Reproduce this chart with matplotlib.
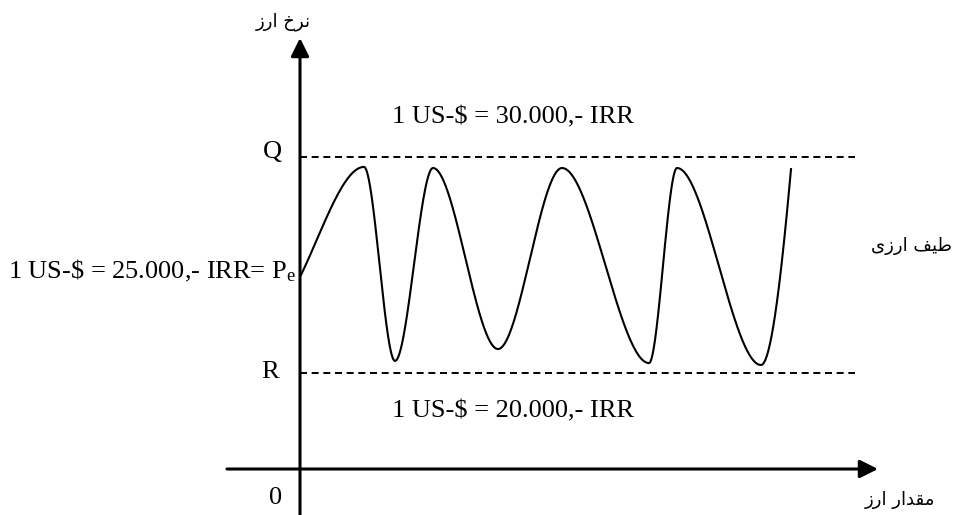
import numpy as np
import matplotlib
matplotlib.use("Agg")
import matplotlib.pyplot as plt
from matplotlib.patches import ArrowStyle

# ---- data (x: quantity of currency, y: rate in thousand IRR per US-$) ----
curve_x = [0.1, 6.4, 9.5, 13.3, 19.8, 26.2, 34.9, 37.7, 46.1, 49.1]
curve_y = [24.54, 29.54, 20.56, 29.49, 21.11, 29.49, 20.46, 29.49, 20.37, 29.44]
upper_rate = 30.0   # Q
lower_rate = 20.0   # R
band_end = 55.5

label_upper = r"1 US-\$ = 30.000,- IRR"
label_lower = r"1 US-\$ = 20.000,- IRR"
label_pe = r"1 US-\$ = 25.000,- IRR= P$_{\rm e}$"
label_q = "Q"
label_r = "R"
label_zero = "0"
# Persian labels (presentation forms, visual order)
label_yaxis = "\uFEAF\uFEAD\uFE8D \uFEA5\uFEAE\uFEE7"            # نرخ ارز
label_band = "\uFEEF\uFEAF\uFEAD\uFE8D \uFED2\uFEF4\uFEC3"        # طیف ارزی
label_xaxis = "\uFEAF\uFEAD\uFE8D \uFEAD\uFE8D\uFEAA\uFED8\uFEE3"  # مقدار ارز


def smooth_curve(x, y, xn, start_factor=1.2, end_factor=1.7):
    """Cubic Hermite through the points: flat at local extrema."""
    x = np.asarray(x, float); y = np.asarray(y, float)
    h = np.diff(x); d = np.diff(y) / h
    n = len(x); m = np.zeros(n)
    for k in range(1, n - 1):
        if d[k - 1] * d[k] > 0:
            m[k] = 1.5 * 2 / (1 / d[k - 1] + 1 / d[k])
    m[0] = start_factor * d[0]
    m[-1] = end_factor * d[-1]
    idx = np.clip(np.searchsorted(x, xn) - 1, 0, n - 2)
    t = (xn - x[idx]) / h[idx]
    h00 = 2 * t**3 - 3 * t**2 + 1; h10 = t**3 - 2 * t**2 + t
    h01 = -2 * t**3 + 3 * t**2; h11 = t**3 - t**2
    return h00 * y[idx] + h10 * h[idx] * m[idx] + h01 * y[idx + 1] + h11 * h[idx] * m[idx + 1]


W, H = 962, 515
fig = plt.figure(figsize=(W / 100, H / 100), dpi=100)
ax = fig.add_axes([0, 0, 1, 1])
# pixel mapping helpers (positions only)
px2x = lambda px: (px - 300) / 10.0
py2y = lambda py: 20 + (373 - py) / 21.6
ax.set_xlim(px2x(0), px2x(W))
ax.set_ylim(py2y(H), py2y(0))
ax.axis("off")

plt.rcParams['mathtext.fontset'] = 'custom'
plt.rcParams['mathtext.rm'] = 'Liberation Serif'
plt.rcParams['mathtext.it'] = 'Liberation Serif:italic'

serif = dict(family="Liberation Serif", fontsize=19, color="black")
arabic = dict(family="DejaVu Sans", fontsize=13, color="black")

# axes with arrows
style = ArrowStyle("-|>", head_length=1.0, head_width=0.5)
ax.annotate("", xy=(0, py2y(38)), xytext=(0, py2y(H + 5)),
            arrowprops=dict(arrowstyle=style, mutation_scale=11, lw=2.2,
                            color="black", shrinkA=0, shrinkB=0))
ax.annotate("", xy=(px2x(878), py2y(469)), xytext=(px2x(227), py2y(469)),
            arrowprops=dict(arrowstyle=style, mutation_scale=11, lw=2.2,
                            color="black", shrinkA=0, shrinkB=0))

# band lines
ax.plot([0, band_end], [upper_rate, upper_rate], color="black", lw=1.4,
        dashes=(3.6, 2.4))
ax.plot([0, band_end], [lower_rate, lower_rate], color="black", lw=1.4,
        dashes=(3.6, 2.4))

# curve
xs = np.linspace(curve_x[0], curve_x[-1], 2000)
ax.plot(xs, smooth_curve(curve_x, curve_y, xs), color="black", lw=1.5)

# texts
ax.text(px2x(513), py2y(117), label_upper, ha="center", va="center", **serif)
ax.text(px2x(513), py2y(411), label_lower, ha="center", va="center", **serif)
ax.text(px2x(296), py2y(278), label_pe, ha="right", va="baseline", **serif)
ax.text(px2x(272), py2y(152), label_q, ha="center", va="center", **serif)
ax.text(px2x(270), py2y(372), label_r, ha="center", va="center", **serif)
ax.text(px2x(276), py2y(498), label_zero, ha="center", va="center", **serif)
ax.text(px2x(283), py2y(22), label_yaxis, ha="center", va="center", **arabic)
ax.text(px2x(912), py2y(246), label_band, ha="center", va="center", **arabic)
ax.text(px2x(900), py2y(500), label_xaxis, ha="center", va="center", **arabic)

fig.savefig("out.png", dpi=100)
